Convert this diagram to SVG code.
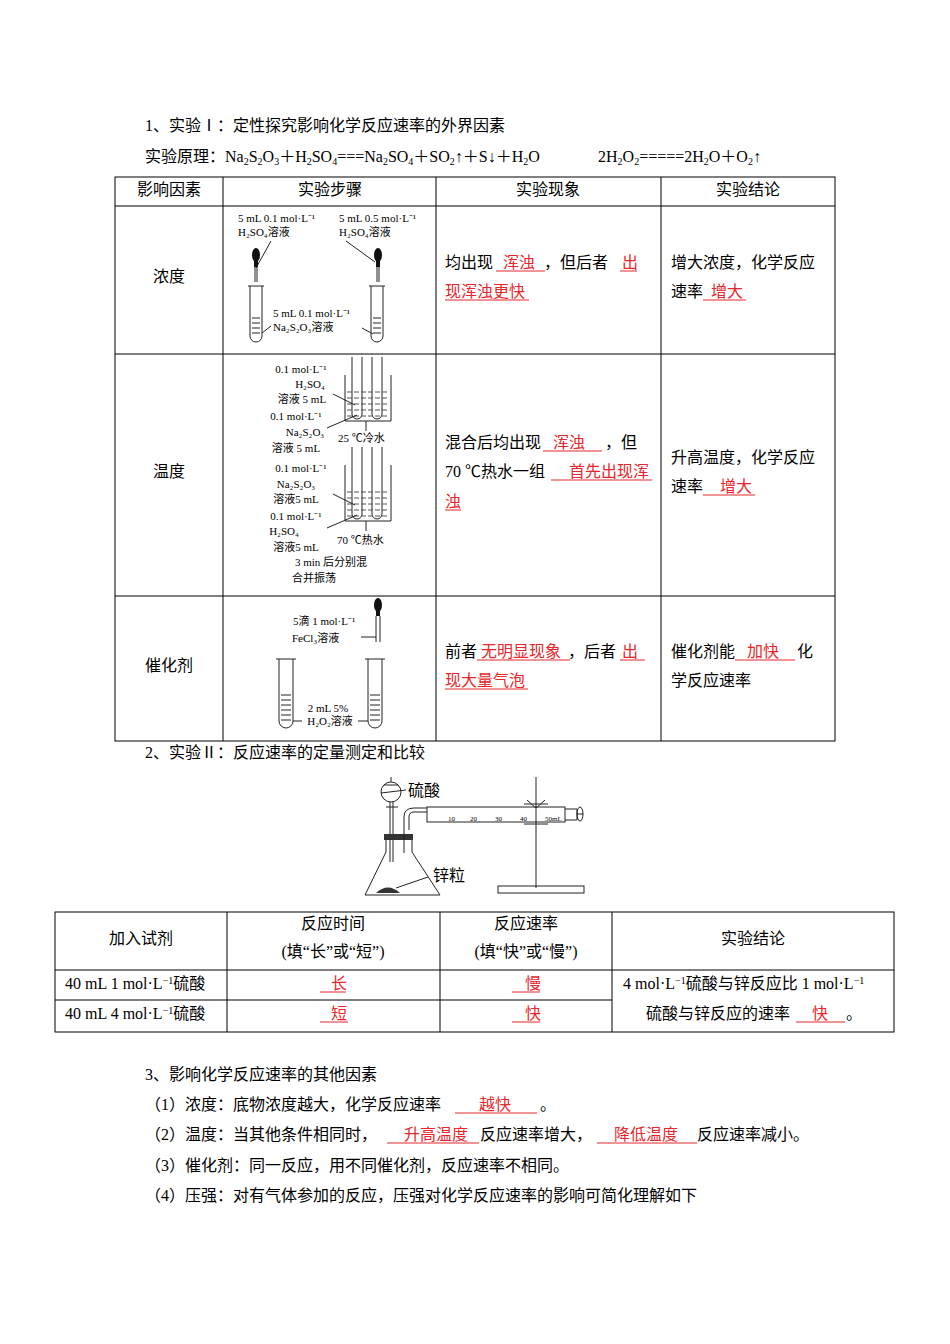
<svg xmlns="http://www.w3.org/2000/svg" width="950" height="1344" viewBox="0 0 950 1344">
<style>
text{font-family:"Liberation Serif","Noto Sans CJK SC",serif;font-size:16px;fill:#000}
.s{font-size:11px}
.r{fill:#e8262b}
.u{stroke:#e8262b;stroke-width:1}
.t{stroke:#000;stroke-width:1;fill:none}
.d{stroke:#222;stroke-width:1;fill:none}
.m{text-anchor:middle}
.k{font-size:7px}
</style>
<rect width="950" height="1344" fill="#fff"/>
<g id="title1"><text x="145" y="131">1、实验Ⅰ：定性探究影响化学反应速率的外界因素</text>
<text x="145" y="162">实验原理：Na<tspan font-size="10" dy="3">2</tspan><tspan dy="-3">S</tspan><tspan font-size="10" dy="3">2</tspan><tspan dy="-3">O</tspan><tspan font-size="10" dy="3">3</tspan><tspan dy="-3">＋H</tspan><tspan font-size="10" dy="3">2</tspan><tspan dy="-3">SO</tspan><tspan font-size="10" dy="3">4</tspan><tspan dy="-3">===Na</tspan><tspan font-size="10" dy="3">2</tspan><tspan dy="-3">SO</tspan><tspan font-size="10" dy="3">4</tspan><tspan dy="-3">＋SO</tspan><tspan font-size="10" dy="3">2</tspan><tspan dy="-3">↑＋S↓＋H</tspan><tspan font-size="10" dy="3">2</tspan><tspan dy="-3">O</tspan></text>
<text x="598" y="162">2H<tspan font-size="10" dy="3">2</tspan><tspan dy="-3">O</tspan><tspan font-size="10" dy="3">2</tspan><tspan dy="-3">=====2H</tspan><tspan font-size="10" dy="3">2</tspan><tspan dy="-3">O＋O</tspan><tspan font-size="10" dy="3">2</tspan><tspan dy="-3">↑</tspan></text></g>
<g id="table1">
<rect class="t" x="115" y="177" width="720" height="564"/>
<path class="t" d="M223 177V741M436 177V741M661 177V741M115 206H835M115 354H835M115 596H835"/>
<text class="m" x="169" y="195">影响因素</text><text class="m" x="330" y="195">实验步骤</text><text class="m" x="548" y="195">实验现象</text><text class="m" x="748" y="195">实验结论</text>
<text class="m" x="169" y="282">浓度</text><text class="m" x="169" y="477">温度</text><text class="m" x="169" y="671">催化剂</text>
<text x="445" y="268">均出现</text><text class="r" x="503" y="268">浑浊</text><text x="544" y="268">，但后者</text><text class="r" x="622" y="268">出</text>
<path class="u" d="M496 271H545M620 271H637M445 300H529"/>
<text x="445" y="297" class="r">现浑浊更快</text>
<text x="671" y="268">增大浓度，化学反应</text><text x="671" y="297">速率</text><text class="r" x="711" y="297">增大</text><path class="u" d="M703 300H746"/>
<text x="445" y="448">混合后均出现</text><text class="r" x="553" y="448">浑浊</text><text x="605" y="448">，但</text><path class="u" d="M543 451H602"/>
<text x="445" y="477">70 ℃热水一组</text><text class="r" x="569" y="477">首先出现浑</text><path class="u" d="M551 480H652"/>
<text x="445" y="507" class="r">浊</text><path class="u" d="M445 510H461"/>
<text x="671" y="463">升高温度，化学反应</text><text x="671" y="492">速率</text><text class="r" x="720" y="492">增大</text><path class="u" d="M703 495H755"/>
<text x="445" y="657">前者</text><text class="r" x="481" y="657">无明显现象</text><text x="568" y="657">，后者</text><text class="r" x="622" y="657">出</text><path class="u" d="M477 660H570M620 660H645"/>
<text x="445" y="686" class="r">现大量气泡</text><path class="u" d="M445 689H528"/>
<text x="671" y="657">催化剂能</text><text class="r" x="747" y="657">加快</text><text x="797" y="657">化</text><path class="u" d="M735 660H795"/>
<text x="671" y="686">学反应速率</text>
</g>
<g id="fig-conc">
<text class="s" x="238" y="222">5 mL 0.1 mol·L⁻¹</text><text class="s" x="238" y="236">H₂SO₄溶液</text>
<text class="s" x="339" y="222">5 mL 0.5 mol·L⁻¹</text><text class="s" x="339" y="236">H₂SO₄溶液</text>
<path class="d" d="M271 241L256 268M346 241L375 262"/>
<ellipse cx="256" cy="255" rx="4" ry="7" fill="#111"/><rect x="254" y="261" width="4" height="6" fill="#111"/><path class="d" d="M255 267V282M257 267V282"/>
<ellipse cx="378" cy="255" rx="4" ry="7" fill="#111"/><rect x="376" y="261" width="4" height="6" fill="#111"/><path class="d" d="M377 267V282M379 267V282"/>
<path class="d" d="M250 286V336A6 6 0 0 0 262 336V286M248 286H264M371 286V336A6 6 0 0 0 383 336V286M369 286H385"/>
<path class="d" d="M252 318H260M252 323H260M252 328H260M252 333H260M373 318H381M373 323H381M373 328H381M373 333H381"/>
<text class="s" x="273" y="317">5 mL 0.1 mol·L⁻¹</text><text class="s" x="273" y="331">Na₂S₂O₃溶液</text>
<path class="d" d="M271 326L262 333M362 328L373 334"/>
</g>
<g id="fig-temp">
<text class="s m" x="301" y="373">0.1 mol·L⁻¹</text><text class="s m" x="310" y="388">H₂SO₄</text><text class="s m" x="302" y="403">溶液 5 mL</text>
<text class="s m" x="296" y="420">0.1 mol·L⁻¹</text><text class="s m" x="305" y="436">Na₂S₂O₃</text><text class="s m" x="296" y="452">溶液 5 mL</text>
<text class="s" x="338" y="442">25 ℃冷水</text>
<text class="s m" x="301" y="472">0.1 mol·L⁻¹</text><text class="s m" x="296" y="488">Na₂S₂O₃</text><text class="s m" x="296" y="503">溶液5 mL</text>
<text class="s m" x="296" y="520">0.1 mol·L⁻¹</text><text class="s m" x="284" y="535">H₂SO₄</text><text class="s m" x="296" y="551">溶液5 mL</text>
<text class="s" x="337" y="544">70 ℃热水</text>
<text class="s m" x="331" y="566">3 min 后分别混</text><text class="s m" x="314" y="582">合并振荡</text>
<path class="d" d="M345 375V421H391V375M345 465V521H391V465"/>
<path class="d" d="M352 357V414A5 5 0 0 0 362 414V357M372 357V414A5 5 0 0 0 382 414V357M352 447V514A5 5 0 0 0 362 514V447M372 447V514A5 5 0 0 0 382 514V447"/>
<path d="M347 392H389M347 398H389M347 404H389M347 410H389M347 416H389M347 492H389M347 498H389M347 504H389M347 510H389M347 516H389" stroke="#555" stroke-dasharray="5 2"/>
<path class="d" d="M333 394L355 405M327 428L357 415M366 421V431M333 494L355 505M327 528L357 515M366 521V531"/>
</g>
<g id="fig-cat">
<text class="s" x="293" y="625">5滴 1 mol·L⁻¹</text><text class="s" x="292" y="642">FeCl₃溶液</text>
<ellipse cx="378" cy="605" rx="4" ry="7" fill="#111"/><rect x="376" y="611" width="4" height="5" fill="#111"/><path class="d" d="M376 616V642M380 616V642M361 637H376"/>
<path class="d" d="M279 659V721A7 7 0 0 0 293 721V659M276 659H296M368 659V721A7 7 0 0 0 382 721V659M365 659H385"/>
<path class="d" d="M281 695H291M281 700H291M281 705H291M281 710H291M281 715H291M281 720H291M370 695H380M370 700H380M370 705H380M370 710H380M370 715H380M370 720H380"/>
<text class="s m" x="328" y="712">2 mL 5%</text><text class="s m" x="330" y="725">H₂O₂溶液</text>
<path class="d" d="M293 721H302M358 721H368"/>
</g>
<g id="title2"><text x="145" y="758">2、实验Ⅱ：反应速率的定量测定和比较</text></g>
<g id="apparatus">
<circle cx="391" cy="792" r="10" class="d"/><path class="d" d="M391 777V782M384 785H398M390 802V862M393 802V862M381 793L406 790M386 807H398"/>
<text x="408" y="796" font-size="13">硫酸</text>
<path class="d" d="M386 840V852L365 895H440L412 852V840"/>
<rect x="384" y="834" width="29" height="6" fill="#333"/>
<path class="d" d="M404 830V853M409 830V817Q409 812 414 812H427M404 830V817Q404 808 414 808H427"/>
<rect x="427" y="807" width="138" height="15" class="d"/><path class="d" d="M565 809H577V820H565M577 814H583"/>
<ellipse cx="580" cy="814" rx="3" ry="7" class="d"/>
<text class="k" x="448" y="821">10</text><text class="k" x="470" y="821">20</text><text class="k" x="495" y="821">30</text><text class="k" x="520" y="821">40</text><text class="k" x="545" y="821">50mL</text>
<path class="d" d="M536 777V888M524 804H548M524 824H548M527 800L536 808L545 800"/>
<rect x="498" y="886" width="86" height="7" class="d"/>
<path d="M376 893Q388 882 400 893Z" fill="#333"/><path class="d" d="M396 888L428 877"/>
<text x="433" y="881" font-size="13">锌粒</text>
</g>
<g id="table2">
<rect class="t" x="55" y="912" width="839" height="120"/>
<path class="t" d="M227 912V1032M440 912V1032M612 912V1032M55 970H894M55 1000H612"/>
<text class="m" x="141" y="944">加入试剂</text>
<text class="m" x="333" y="929">反应时间</text><text class="m" x="333" y="957">(填“长”或“短”)</text>
<text class="m" x="526" y="929">反应速率</text><text class="m" x="526" y="957">(填“快”或“慢”)</text>
<text class="m" x="753" y="944">实验结论</text>
<text x="65" y="989" font-size="15">40 mL 1 mol·L<tspan font-size="10" dy="-5">−1</tspan><tspan dy="5">硫酸</tspan></text>
<text x="65" y="1019" font-size="15">40 mL 4 mol·L<tspan font-size="10" dy="-5">−1</tspan><tspan dy="5">硫酸</tspan></text>
<text class="r" x="331" y="989">长</text><text class="r" x="331" y="1019">短</text><text class="r" x="525" y="989">慢</text><text class="r" x="525" y="1019">快</text>
<path class="u" d="M320 992H346M320 1022H348M512 992H540M512 1022H540"/>
<text x="623" y="989" font-size="15">4 mol·L<tspan font-size="10" dy="-5">−1</tspan><tspan dy="5">硫酸与锌反应比 1 mol·L</tspan><tspan font-size="10" dy="-5">−1</tspan></text>
<text x="646" y="1019" font-size="15">硫酸与锌反应的速率</text><text class="r" x="812" y="1019">快</text><text x="846" y="1019">。</text><path class="u" d="M796 1022H845"/>
</g>
<g id="section3">
<text x="145" y="1080">3、影响化学反应速率的其他因素</text>
<text x="145" y="1110">（1）浓度：底物浓度越大，化学反应速率</text><text class="r" x="479" y="1110">越快</text><text x="540" y="1110">。</text><path class="u" d="M455 1113H537"/>
<text x="145" y="1140">（2）温度：当其他条件相同时，</text><text class="r" x="404" y="1140">升高温度</text><text x="480" y="1140">反应速率增大，</text><text class="r" x="614" y="1140">降低温度</text><text x="697" y="1140">反应速率减小。</text><path class="u" d="M387 1143H479M597 1143H697"/>
<text x="145" y="1171">（3）催化剂：同一反应，用不同催化剂，反应速率不相同。</text>
<text x="145" y="1201">（4）压强：对有气体参加的反应，压强对化学反应速率的影响可简化理解如下</text>
</g>
</svg>
